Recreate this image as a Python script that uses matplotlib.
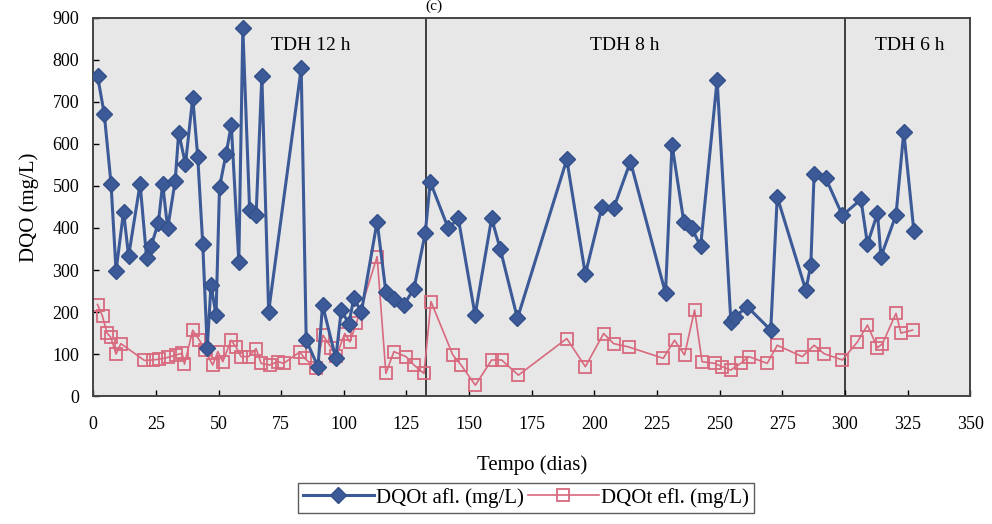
import matplotlib as mpl
import matplotlib.pyplot as plt

# DQO total afluente (mg/L) ao longo do tempo de operação
dias_afl = [1.7, 4.4, 7.1, 9.1, 12.1, 14.1, 18.7, 21.3, 23.1, 26, 27.7, 29.7, 32.7,
            34.1, 36.8, 39.7, 41.7, 43.7, 45.5, 47, 49, 50.4, 53, 55.1, 58.1, 59.7,
            62.4, 65, 67.3, 70, 83, 85, 89.7, 91.5, 96.8, 99, 102, 104, 107, 113.3,
            116.8, 120, 124, 128, 132.5, 134.5, 141.7, 145.7, 152.4, 159, 162.4,
            169.3, 189, 196.4, 203, 207.7, 214.4, 228.4, 231, 235.7, 239, 242.4,
            249, 254.5, 256, 261, 270.4, 273, 284.4, 286.4, 287.7, 292.4, 299,
            306.4, 309, 313, 314.4, 320.4, 323.5, 327.5]
dqo_afl = [762, 671, 505, 298, 439, 333, 505, 329, 357, 413, 505, 399, 512,
           627, 552, 710, 570, 362, 115, 265, 193, 497, 576, 645, 320, 875,
           444, 431, 762, 201, 780, 133, 70, 217, 90, 205, 172, 233, 200, 415,
           248, 232, 217, 256, 387, 510, 399, 423, 193, 423, 351,
           185, 563, 290, 450, 447, 558, 245, 598, 415, 399, 356,
           752, 176, 188, 213, 157, 474, 252, 312, 528, 518, 430,
           468, 362, 435, 332, 431, 629, 394]

# DQO total efluente (mg/L)
dias_efl = [1.7, 3.7, 5.5, 7, 9.1, 11, 20.4, 23.7, 26.4, 29.7, 33, 35.5, 36.4,
            39.7, 42.4, 44.5, 47.7, 49.7, 51.7, 55, 57, 59, 62, 65, 67, 70.4,
            73.7, 76, 82.4, 84.4, 89, 91.7, 95, 97, 100.4, 102.4, 105, 113.3,
            116.8, 120, 124.8, 128, 132, 134.8, 143.5, 146.8, 152.5, 159, 163,
            169.7, 189, 196.4, 203.7, 207.7, 213.7, 227.5, 232, 236, 240, 243,
            248, 251, 254.4, 258.4, 261.7, 269, 273, 283, 287.7, 291.7, 299,
            305, 309, 313, 315, 320.4, 322.4, 327]
dqo_efl = [218, 190, 150, 140, 100, 125, 85, 86, 88, 92, 98, 102, 76,
           157, 133, 110, 74, 106, 82, 133, 117, 94, 94, 113, 78, 74,
           82, 78, 105, 90, 66, 145, 115, 95, 149, 129, 173, 332,
           54, 106, 94, 74, 54, 225, 98, 74, 26, 86, 86,
           50, 137, 70, 149, 125, 117, 90, 133, 98, 205, 82,
           78, 70, 62, 78, 94, 78, 121, 94, 121, 101, 86,
           129, 169, 115, 125, 197, 150, 157]

# mudanças de TDH e rótulos das fases
limites_tdh = [133, 300]
fases = ['TDH 12 h', 'TDH 8 h', 'TDH 6 h']
pos_fases = [87, 212, 326]

mpl.rcParams['font.family'] = ['Liberation Serif', 'DejaVu Serif']
mpl.rcParams['xtick.direction'] = 'in'
mpl.rcParams['ytick.direction'] = 'in'

fig = plt.figure(figsize=(9.92, 5.24), dpi=100)
ax = fig.add_axes([0.094, 0.244, 0.884, 0.722])
ax.set_facecolor('#e7e7e7')

ax.plot(dias_afl, dqo_afl, color='#3b5a97', lw=2.2, marker='D', ms=8,
        mfc='#3b5a97', mec='#33508a', label='DQOt afl. (mg/L)', zorder=3)
ax.plot(dias_efl, dqo_efl, color='#d8697e', lw=1.2, marker='s', ms=8.5,
        mfc='none', mec='#d8697e', mew=1.3, label='DQOt efl. (mg/L)', zorder=2)

for d in limites_tdh:
    ax.axvline(d, color='#222222', lw=1.2, zorder=1)
for txt, d in zip(fases, pos_fases):
    ax.text(d, 833, txt, ha='center', va='center', fontsize=14)

ax.set_xlim(0, 350)
ax.set_ylim(0, 900)
ax.set_xticks(range(0, 351, 25))
ax.set_yticks(range(0, 901, 100))
ax.tick_params(labelsize=13, length=4, width=1)
ax.tick_params(axis='x', pad=14)
ax.tick_params(axis='y', pad=10)
for s in ax.spines.values():
    s.set_color('#444444')
    s.set_linewidth(1.4)

ax.set_xlabel('Tempo (dias)', fontsize=15, labelpad=16)
ax.set_ylabel('DQO (mg/L)', fontsize=15, labelpad=10)

fig.text(0.437, 1.0, '(c)', ha='center', va='top', fontsize=11)

leg = fig.legend(loc='center', bbox_to_anchor=(0.53, 0.05), ncol=2,
                 fontsize=15, frameon=True, fancybox=False, edgecolor='#333333',
                 handlelength=3.4, columnspacing=0.2, handletextpad=0.1,
                 borderpad=0.25)
leg.get_frame().set_linewidth(1.0)

fig.savefig('out.png', dpi=100)
